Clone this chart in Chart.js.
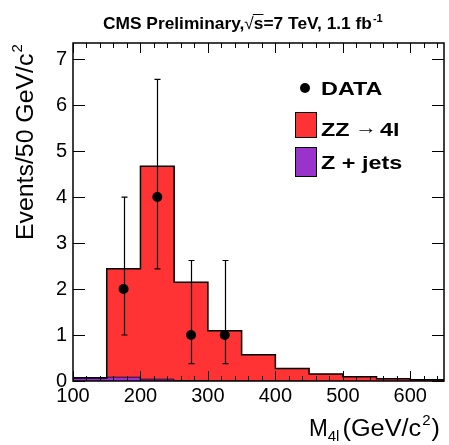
<!DOCTYPE html>
<html>
<head>
<meta charset="utf-8">
<script src="https://cdn.jsdelivr.net/npm/chart.js@4"></script>
<style>
  html, body { margin: 0; padding: 0; background: #fff; }
  #wrap { width: 449px; height: 445px; }
</style>
</head>
<body>
<div id="wrap"><canvas id="chart" width="449" height="445"></canvas></div>
<script>
// histogram bins (GeV/c^2), left edges + last right edge
const binEdges = [100, 150, 200, 250, 300, 350, 400, 450, 500, 550, 600, 650];
// expected events per bin
const zjetsValues = [0.07, 0.09, 0.05, 0.02, 0.006, 0.004, 0.003, 0.002, 0.002, 0.001, 0.001];
const zzValues = [0.0, 2.35, 4.62, 2.13, 1.084, 0.566, 0.267, 0.148, 0.088, 0.05, 0.025];
// observed data
const dataMass = [175, 225, 275, 325];
const dataCounts = [2, 4, 1, 1];
const dataErrUp = [2.0, 2.56, 1.62, 1.62];
const dataErrDown = [1.0, 1.56, 0.62, 0.62];
// axis ticks
const xTickLabels = [100, 200, 300, 400, 500, 600];
const yTickLabels = [0, 1, 2, 3, 4, 5, 6, 7];

const FONT = '"Liberation Sans", Arial, Helvetica, sans-serif';

// stepped points: value i spans [edge i, edge i+1]
function steps(vals) {
  const pts = vals.map((v, i) => ({ x: binEdges[i], y: v }));
  pts.push({ x: binEdges[binEdges.length - 1], y: vals[vals.length - 1] });
  return pts;
}
const zzStack = zzValues.map((v, i) => v + zjetsValues[i]);

// text stretched horizontally (ROOT's Helvetica renders wider); returns advance
function txt(ctx, s, x, y, font, sx) {
  ctx.save();
  ctx.font = font;
  ctx.translate(x, y);
  ctx.scale(sx || 1, 1);
  ctx.fillText(s, 0, 0);
  const w = ctx.measureText(s).width * (sx || 1);
  ctx.restore();
  return w;
}

const errorBars = {
  id: 'errorBars',
  afterDatasetsDraw(chart) {
    const { ctx, scales: { x, y } } = chart;
    ctx.save();
    ctx.strokeStyle = '#000';
    ctx.lineWidth = 1.2;
    dataMass.forEach((m, i) => {
      const px = Math.round(x.getPixelForValue(m)) + 0.5;
      const top = y.getPixelForValue(dataCounts[i] + dataErrUp[i]);
      const bot = y.getPixelForValue(dataCounts[i] - dataErrDown[i]);
      ctx.beginPath();
      ctx.moveTo(px, top); ctx.lineTo(px, bot);
      ctx.moveTo(px - 3, top); ctx.lineTo(px + 3, top);
      ctx.moveTo(px - 3, bot); ctx.lineTo(px + 3, bot);
      ctx.stroke();
    });
    ctx.restore();
  }
};

const frame = {
  id: 'frame',
  afterDraw(chart) {
    const { ctx, chartArea: a, scales: { x, y } } = chart;
    ctx.save();
    ctx.strokeStyle = '#000';
    ctx.lineWidth = 1.5;
    ctx.strokeRect(a.left, a.top, a.right - a.left, a.bottom - a.top);
    ctx.lineWidth = 1;
    ctx.beginPath();
    for (let v = 100; v < 650; v += 20) {
      const px = Math.round(x.getPixelForValue(v)) + 0.5;
      const len = v % 100 === 0 ? 10 : 5;
      ctx.moveTo(px, a.bottom); ctx.lineTo(px, a.bottom - len);
      ctx.moveTo(px, a.top); ctx.lineTo(px, a.top + len);
    }
    for (let v = 0; v <= 7; v++) {
      const py = Math.round(y.getPixelForValue(v)) + 0.5;
      ctx.moveTo(a.left, py); ctx.lineTo(a.left + 12, py);
      ctx.moveTo(a.right, py); ctx.lineTo(a.right - 12, py);
    }
    ctx.stroke();

    // title
    ctx.fillStyle = '#000';
    ctx.textBaseline = 'alphabetic';
    ctx.textAlign = 'left';
    const B17 = 'bold 17px ' + FONT;
    let tx = 103;
    const ty = 29;
    tx += txt(ctx, 'CMS Preliminary,', tx, ty, B17, 1.02);
    tx += txt(ctx, '\u221A', tx, ty, '17px ' + FONT, 1.02);
    const sw = txt(ctx, 's', tx, ty, B17, 1.02);
    ctx.beginPath(); ctx.lineWidth = 1;
    ctx.moveTo(tx - 1, ty - 14.5); ctx.lineTo(tx + sw, ty - 14.5); ctx.stroke();
    tx += sw;
    tx += txt(ctx, '=7 TeV, 1.1 fb', tx, ty, B17, 1.02);
    txt(ctx, '-1', tx + 1, ty - 7, 'bold 11px ' + FONT, 1);

    // legend
    const B19 = 'bold 19px ' + FONT;
    ctx.beginPath();
    ctx.arc(305, 88, 5, 0, Math.PI * 2);
    ctx.fill();
    txt(ctx, 'DATA', 321, 95, B19, 1.23);
    ctx.lineWidth = 1;
    ctx.fillStyle = chart.data.datasets[2].backgroundColor;
    ctx.fillRect(295, 112, 21, 25);
    ctx.strokeRect(295.5, 112.5, 21, 25);
    ctx.fillStyle = chart.data.datasets[1].backgroundColor;
    ctx.fillRect(295, 147, 21, 29);
    ctx.strokeRect(295.5, 147.5, 21, 29);
    ctx.fillStyle = '#000';
    txt(ctx, 'ZZ', 321, 136, B19, 1.23);
    txt(ctx, '\u2192', 355, 134, '19px ' + FONT, 1.15);
    txt(ctx, '4l', 380, 136, B19, 1.23);
    txt(ctx, 'Z + jets', 321, 169, B19, 1.23);

    // x title
    const R23 = '23px ' + FONT;
    let xx = 309;
    const xy = 436;
    xx += txt(ctx, 'M', xx, xy, R23, 0.98);
    xx += txt(ctx, '4l', xx, xy + 5, '15px ' + FONT, 1) + 3;
    xx += txt(ctx, '(GeV/c', xx, xy, R23, 1.1);
    xx += txt(ctx, '2', xx + 1, xy - 11, '15px ' + FONT, 1) + 2;
    txt(ctx, ')', xx, xy, R23, 1.1);

    // y title
    ctx.translate(33, 240);
    ctx.rotate(-Math.PI / 2);
    const yw = txt(ctx, 'Events/50 GeV/c', 0, 0, '23px ' + FONT, 1.08);
    txt(ctx, '2', yw + 1, -11, '15px ' + FONT, 1);
    ctx.restore();
  }
};

new Chart(document.getElementById('chart'), {
  type: 'line',
  data: {
    datasets: [
      {
        label: 'DATA',
        data: dataMass.map((m, i) => ({ x: m, y: dataCounts[i] })),
        showLine: false,
        pointRadius: 5,
        pointBackgroundColor: '#000',
        pointBorderColor: '#000',
        borderWidth: 0,
        order: 0
      },
      {
        label: 'Z + jets',
        data: steps(zjetsValues),
        stepped: true,
        borderColor: '#000',
        borderWidth: 1.5,
        backgroundColor: '#9933cc',
        fill: 'origin',
        pointRadius: 0,
        order: 2
      },
      {
        label: 'ZZ \u2192 4l',
        data: steps(zzStack),
        stepped: true,
        borderColor: '#000',
        borderWidth: 1.5,
        backgroundColor: '#ff3333',
        fill: 1,
        pointRadius: 0,
        order: 1
      }
    ]
  },
  options: {
    responsive: false,
    animation: false,
    events: [],
    layout: { padding: { top: 43, right: 2, left: 0, bottom: 0 } },
    plugins: {
      legend: { display: false },
      tooltip: { enabled: false },
      title: { display: false }
    },
    scales: {
      x: {
        type: 'linear',
        min: 100,
        max: 650,
        grid: { display: false, drawTicks: false },
        border: { display: false },
        afterBuildTicks: s => { s.ticks = xTickLabels.map(v => ({ value: v })); },
        afterFit: s => { s.height = 64; },
        ticks: {
          autoSkip: false,
          maxRotation: 0,
          padding: 3,
          color: '#000',
          font: { family: FONT, size: 20 }
        }
      },
      y: {
        min: 0,
        max: 7.35,
        grid: { display: false, drawTicks: false },
        border: { display: false },
        afterBuildTicks: s => { s.ticks = yTickLabels.map(v => ({ value: v })); },
        afterFit: s => { s.width = 73; },
        ticks: {
          padding: 6,
          color: '#000',
          font: { family: FONT, size: 20 }
        }
      }
    }
  },
  plugins: [errorBars, frame]
});
</script>
</body>
</html>
